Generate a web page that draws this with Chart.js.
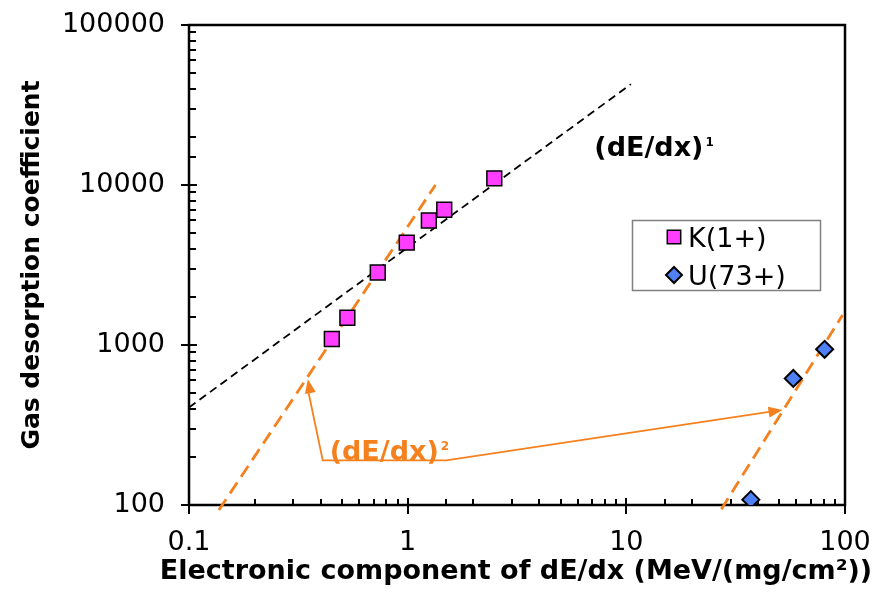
<!DOCTYPE html>
<html><head><meta charset="utf-8">
<script src="https://cdn.jsdelivr.net/npm/chart.js@4/dist/chart.umd.min.js"></script>
<style>html,body{margin:0;padding:0;background:#fff}#c{display:block}</style>
</head><body>
<canvas id="c" width="893" height="598"></canvas>
<script>
// ---- data ----
const kLabel = 'K(1+)';
const kX = [0.45, 0.53, 0.73, 0.99, 1.25, 1.47, 2.49];
const kY = [1090, 1480, 2840, 4360, 6000, 7000, 11000];
const uLabel = 'U(73+)';
const uX = [37.1, 58, 80.7];
const uY = [108, 618, 940];
// fitted guide lines (end points)
const fit1X = [0.1, 10.5];
const fit1Y = [407, 42700];
const fit2aX = [0.137, 1.34];
const fit2aY = [93, 10000];
const fit2bX = [27.2, 97.5];
const fit2bY = [94, 1540];
// tick labels
const xTickLabels = ['0.1', '1', '10', '100'];
const yTickLabels = ['100', '1000', '10000', '100000'];
// annotation: arrow polyline (data coords): tip1, corner1, corner2, tip2
const arrowX = [0.3495, 0.409, 1.502, 51.8];
const arrowY = [611, 190, 190, 392];
const label1 = {text: '(dE/dx)', sup: '1', x: 7.14, y: 15200};
const label2 = {text: '(dE/dx)', sup: '2', x: 0.44, y: 192};
const xTitle = 'Electronic component of dE/dx (MeV/(mg/cm\u00B2))';
const yTitle = 'Gas desorption coefficient';

const ORANGE = '#f5801e';
const PINK = '#ff3dff';
const BLUE = '#4f80f5';
const FONT = '"DejaVu Sans", sans-serif';

function pts(xs, ys) { return xs.map((x, i) => ({x: x, y: ys[i]})); }
function isDecade(v) { const l = Math.log10(v); return Math.abs(l - Math.round(l)) < 1e-6; }

function arrowHead(ctx, x0, y0, x1, y1, len, half) {
  const a = Math.atan2(y1 - y0, x1 - x0);
  ctx.beginPath();
  ctx.moveTo(x1, y1);
  ctx.lineTo(x1 - len * Math.cos(a) + half * Math.sin(a), y1 - len * Math.sin(a) - half * Math.cos(a));
  ctx.lineTo(x1 - len * Math.cos(a) - half * Math.sin(a), y1 - len * Math.sin(a) + half * Math.cos(a));
  ctx.closePath();
  ctx.fill();
}

const deco = {
  id: 'deco',
  beforeDatasetsDraw(chart) {
    const {ctx, chartArea: a, scales: {x, y}} = chart;
    ctx.save();
    ctx.strokeStyle = '#000';
    ctx.lineWidth = 2;
    ctx.beginPath();
    y.ticks.forEach(t => {
      const py = Math.round(y.getPixelForValue(t.value));
      if (isDecade(t.value)) { ctx.moveTo(a.left - 8, py); ctx.lineTo(a.left + 8, py); }
      else { ctx.moveTo(a.left, py); ctx.lineTo(a.left + 7, py); }
    });
    x.ticks.forEach(t => {
      const px = Math.round(x.getPixelForValue(t.value));
      if (isDecade(t.value)) { ctx.moveTo(px, a.bottom - 7); ctx.lineTo(px, a.bottom + 9); }
      else { ctx.moveTo(px, a.bottom - 6); ctx.lineTo(px, a.bottom); }
    });
    ctx.stroke();
    ctx.lineWidth = 2.5;
    ctx.strokeRect(a.left, a.top, a.right - a.left, a.bottom - a.top);
    ctx.restore();
  },
  afterDatasetsDraw(chart) {
    const {ctx, chartArea: a, scales: {x, y}} = chart;
    ctx.save();
    // orange annotation arrows
    const P = arrowX.map((v, i) => [x.getPixelForValue(v), y.getPixelForValue(arrowY[i])]);
    ctx.strokeStyle = ORANGE; ctx.fillStyle = ORANGE; ctx.lineWidth = 1.8;
    ctx.beginPath();
    ctx.moveTo(P[0][0], P[0][1] + 10);
    ctx.lineTo(P[1][0], P[1][1]);
    ctx.lineTo(P[2][0], P[2][1]);
    ctx.lineTo(P[3][0] - 10, P[3][1] + 1.2);
    ctx.stroke();
    arrowHead(ctx, P[1][0], P[1][1], P[0][0], P[0][1], 14, 5.5);
    arrowHead(ctx, P[2][0], P[2][1], P[3][0], P[3][1], 14, 5.5);
    // labels
    function lab(L, color) {
      const px = x.getPixelForValue(L.x), py = y.getPixelForValue(L.y);
      ctx.fillStyle = color;
      ctx.textBaseline = 'alphabetic'; ctx.textAlign = 'left';
      ctx.font = 'bold 27px ' + FONT;
      ctx.fillText(L.text, px, py);
      const w = ctx.measureText(L.text).width;
      ctx.font = 'bold 12px ' + FONT;
      ctx.fillText(L.sup, px + w + 2, py - 10);
    }
    lab(label1, '#000');
    lab(label2, ORANGE);
    // legend
    const lx = a.right - 213, ly = a.top + 195, lw = 188, lh = 70;
    ctx.fillStyle = '#fff';
    ctx.fillRect(lx, ly, lw, lh);
    ctx.strokeStyle = '#808080'; ctx.lineWidth = 1.5;
    ctx.strokeRect(lx + 0.5, ly + 0.5, lw, lh);
    const dsK = chart.data.datasets[0], dsU = chart.data.datasets[1];
    const items = [[dsK, ly + 17], [dsU, ly + 55]];
    items.forEach(([ds, cy]) => {
      ctx.fillStyle = ds.backgroundColor; ctx.strokeStyle = ds.borderColor;
      ctx.lineWidth = ds.borderWidth;
      const r = ds.pointStyle === 'rect' ? 9.5 : 8;
      Chart.helpers.drawPoint(ctx, {pointStyle: ds.pointStyle, radius: r, rotation: 0, borderWidth: ds.borderWidth}, lx + 42, cy);
      ctx.fillStyle = '#000';
      ctx.font = '27px ' + FONT;
      ctx.textAlign = 'left'; ctx.textBaseline = 'alphabetic';
      ctx.fillText(ds.label, lx + 56, cy + 10);
    });
    // x axis title (drawn without width compression)
    ctx.fillStyle = '#000';
    ctx.font = 'bold 27px ' + FONT;
    ctx.textAlign = 'center'; ctx.textBaseline = 'middle';
    ctx.fillText(xTitle, (a.left + a.right) / 2 - 1, a.bottom + 67);
    ctx.restore();
  }
};

function noPad(s) { s.paddingTop = 0; s.paddingBottom = 0; s.paddingLeft = 0; s.paddingRight = 0; }
const tickFont = {family: FONT, size: 27};
new Chart(document.getElementById('c'), {
  type: 'scatter',
  data: {
    datasets: [
      {label: kLabel, data: pts(kX, kY), pointStyle: 'rect', pointRadius: 10.5, pointHoverRadius: 10.5,
       backgroundColor: PINK, borderColor: '#000', borderWidth: 1.5, order: 0},
      {label: uLabel, data: pts(uX, uY), pointStyle: 'rectRot', pointRadius: 8.5, pointHoverRadius: 8.5,
       backgroundColor: BLUE, borderColor: '#000', borderWidth: 2, order: 0},
      {type: 'line', label: 'fit1', data: pts(fit1X, fit1Y), borderColor: '#000', borderWidth: 1.8,
       borderDash: [8, 5], pointRadius: 0, fill: false, order: 1, clip: false},
      {type: 'line', label: 'fit2a', data: pts(fit2aX, fit2aY), borderColor: ORANGE, borderWidth: 2.8,
       borderDash: [13, 7], pointRadius: 0, fill: false, order: 1, clip: false},
      {type: 'line', label: 'fit2b', data: pts(fit2bX, fit2bY), borderColor: ORANGE, borderWidth: 2.8,
       borderDash: [13, 7], pointRadius: 0, fill: false, order: 1, clip: false}
    ]
  },
  options: {
    responsive: false, animation: false, devicePixelRatio: 1, events: [],
    layout: {padding: {top: 25, right: 48, left: 0, bottom: 0}},
    plugins: {legend: {display: false}, tooltip: {enabled: false}},
    scales: {
      x: {
        type: 'logarithmic', min: 0.1, max: 100, position: 'bottom',
        grid: {display: false, drawTicks: false}, border: {display: false},
        ticks: {autoSkip: false, maxRotation: 0, padding: 22, color: '#000', font: tickFont,
          callback: v => isDecade(v) ? xTickLabels[Math.round(Math.log10(v)) + 1] : ''},
        title: {display: false, text: xTitle},
        afterFit: s => { s.height = 93; noPad(s); }
      },
      y: {
        type: 'logarithmic', min: 100, max: 100000, position: 'left',
        grid: {display: false, drawTicks: false}, border: {display: false},
        ticks: {autoSkip: false, padding: 24, color: '#000', font: tickFont,
          callback: v => isDecade(v) ? yTickLabels[Math.round(Math.log10(v)) - 2] : ''},
        title: {display: true, text: yTitle, color: '#000',
          font: {family: FONT, weight: 'bold', size: 25}, padding: {top: 17, bottom: 0}},
        afterFit: s => { s.width = 189; noPad(s); }
      }
    }
  },
  plugins: [deco]
});
</script>
</body></html>
